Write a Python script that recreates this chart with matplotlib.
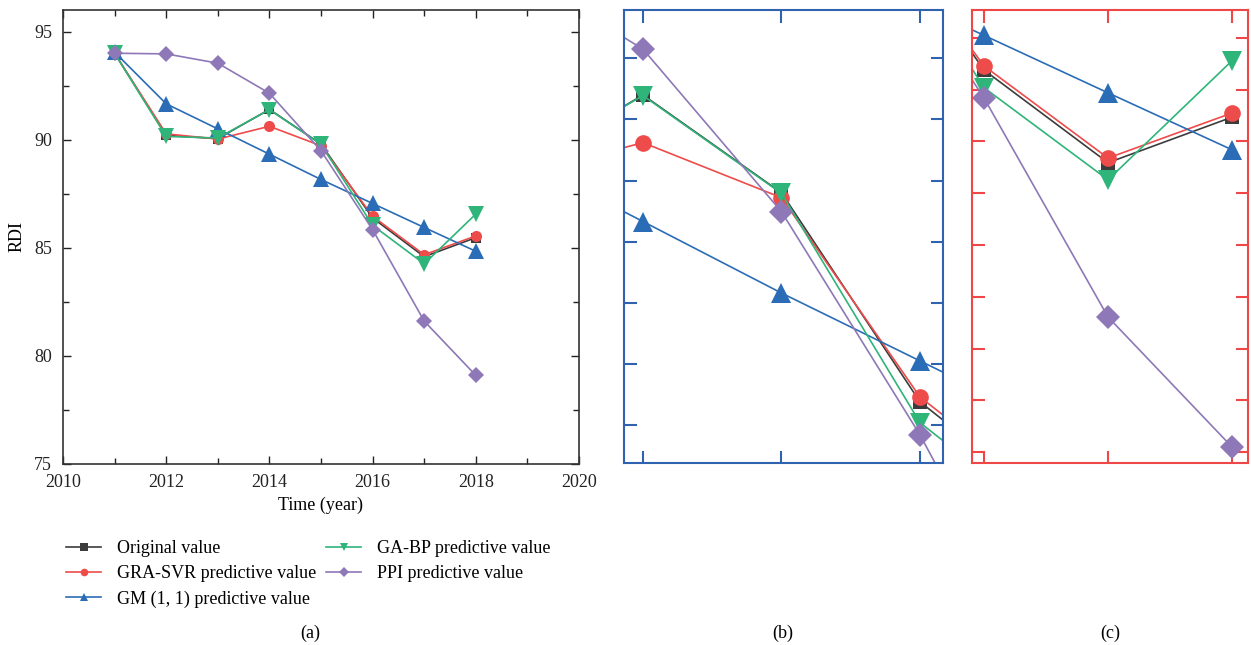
import numpy as np
import matplotlib
matplotlib.use("Agg")
import matplotlib.pyplot as plt
from matplotlib.ticker import MultipleLocator
from matplotlib.lines import Line2D

plt.rcParams['font.family'] = ['Liberation Serif', 'DejaVu Serif']

years = [2011, 2012, 2013, 2014, 2015, 2016, 2017, 2018]
original = [94.0, 90.2, 90.05, 91.4, 89.8, 86.38, 84.59, 85.47]
gra_svr = [94.0, 90.27, 90.03, 90.62, 89.72, 86.46, 84.68, 85.55]
gm = [94.05, 91.66, 90.5, 89.33, 88.16, 87.05, 85.94, 84.84]
ga_bp = [94.0, 90.15, 90.08, 91.39, 89.79, 86.04, 84.26, 86.56]
ppi = [94.0, 93.97, 93.54, 92.15, 89.49, 85.84, 81.61, 79.1]

labels = ["Original value", "GRA-SVR predictive value", "GM (1, 1) predictive value",
          "GA-BP predictive value", "PPI predictive value"]
series = [original, gra_svr, gm, ga_bp, ppi]
colors = ["#3c3c3c", "#ee4b4b", "#2b6cb6", "#2fb47a", "#8e78b7"]
markers = ["s", "o", "^", "v", "D"]
msize_a = [7, 8, 11, 11, 8.5]
msize_z = [10, 12, 14, 14, 12]

fig = plt.figure(figsize=(12.51, 6.45), dpi=100)
W, H = 1251, 645

def box(l, r, t, b):
    return [l / W, 1 - b / H, (r - l) / W, (b - t) / H]

ax_a = fig.add_axes(box(63, 579, 10, 464))
ax_b = fig.add_axes(box(624, 943, 10, 463))
ax_c = fig.add_axes(box(972, 1248, 10, 463))

for s, c, m, ms in zip(series, colors, markers, msize_a):
    ax_a.plot(years, s, color=c, marker=m, markersize=ms, lw=1.2, markeredgewidth=0)

ax_a.set_xlim(2010, 2020)
ax_a.set_ylim(75, 96)
ax_a.xaxis.set_major_locator(MultipleLocator(2))
ax_a.xaxis.set_minor_locator(MultipleLocator(1))
ax_a.yaxis.set_major_locator(MultipleLocator(5))
ax_a.yaxis.set_minor_locator(MultipleLocator(2.5))
ax_a.tick_params(which='both', direction='in', top=True, right=True,
                 labelsize=13, colors='#222222')
ax_a.tick_params(which='major', length=6, width=1)
ax_a.tick_params(which='minor', length=4, width=1)
ax_a.tick_params(axis='x', pad=7)
ax_a.tick_params(axis='y', pad=8)
for sp in ax_a.spines.values():
    sp.set_color('#333333')
    sp.set_linewidth(1.2)
ax_a.set_ylabel("RDI", fontsize=13, labelpad=6)
ax_a.set_xlabel("Time (year)", fontsize=13, labelpad=4)

for ax, xl, yl, sc in [(ax_b, (2013.863, 2016.166), (85.38, 92.79), "#2f63b0"),
                       (ax_c, (2015.903, 2018.129), (78.79, 87.54), "#ef4747")]:
    for s, c, m, ms in zip(series, colors, markers, msize_z):
        ax.plot(years, s, color=c, marker=m, markersize=ms, lw=1.2, markeredgewidth=0)
    ax.set_xlim(*xl)
    ax.set_ylim(*yl)
    ax.xaxis.set_major_locator(MultipleLocator(1))
    ax.yaxis.set_major_locator(MultipleLocator(1))
    ax.tick_params(which='major', direction='in', top=True, right=True,
                   length=9, width=1.5, color=sc,
                   labelbottom=False, labelleft=False)
    for sp in ax.spines.values():
        sp.set_color(sc)
        sp.set_linewidth(1.5)

# legend handles with small uniform markers
handles = [Line2D([], [], color=c, marker=m, markersize=5.5, lw=1.2,
                  markeredgewidth=0, label=lab)
           for c, m, lab in zip(colors, markers, labels)]
fig.legend(handles=handles, ncol=2, loc='upper left',
           bbox_to_anchor=(50 / W, 1 - 524 / H), frameon=False,
           fontsize=13, handlelength=1.95,
           labelspacing=0.45, columnspacing=0.55, handletextpad=0.85)

fig.text(310 / W, 1 - 633 / H, "(a)", ha='center', va='center', fontsize=13)
fig.text(783 / W, 1 - 633 / H, "(b)", ha='center', va='center', fontsize=13)
fig.text(1110 / W, 1 - 633 / H, "(c)", ha='center', va='center', fontsize=13)

fig.savefig("out.png", dpi=100)
